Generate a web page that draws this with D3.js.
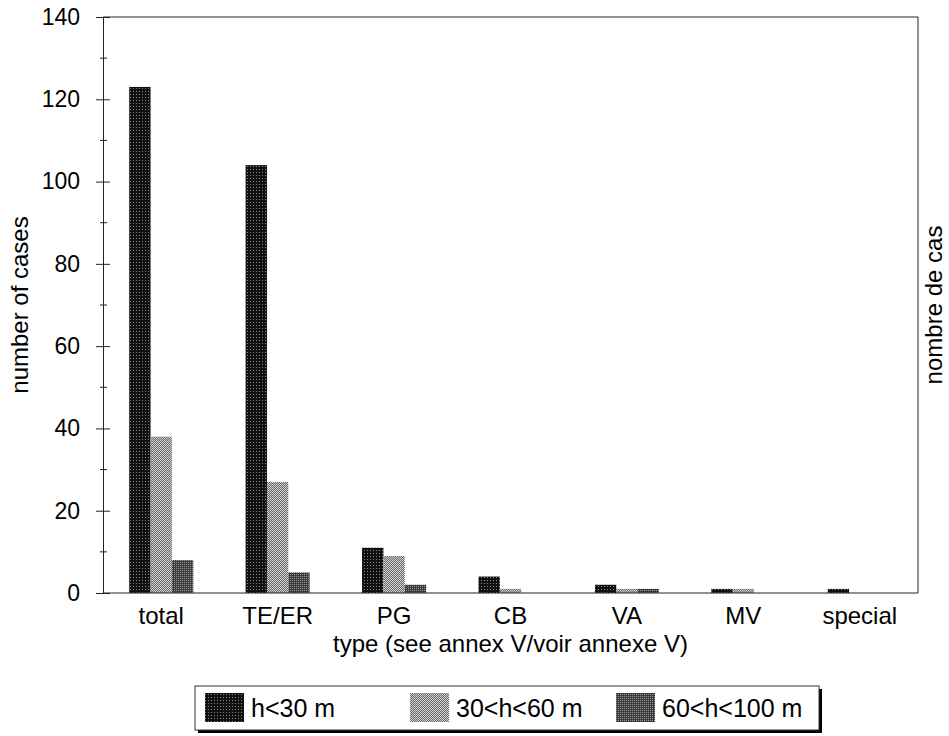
<!DOCTYPE html>
<html><head><meta charset="utf-8">
<script src="https://cdn.jsdelivr.net/npm/d3@7"></script>
<style>body{margin:0;background:#fff}text{font-family:"Liberation Sans",Arial,sans-serif;fill:#000}</style>
</head><body>
<svg id="c" width="949" height="736"></svg>
<script>
const categories = ["total","TE/ER","PG","CB","VA","MV","special"];
const seriesNames = ["h<30 m","30<h<60 m","60<h<100 m"];
const h30  = [123,104,11,4,2,1,1];
const h60  = [38,27,9,1,1,1,0];
const h100 = [8,5,2,0,1,0,0];
const yTicks = [0,20,40,60,80,100,120,140];
const yMinor = [10,30,50,70,90,110,130];
const seriesValues = [h30,h60,h100];

const svg = d3.select("#c");
const L=103, R=918, T=17, B=593;

const defs = svg.append("defs");
function pat(id, size, bg, dots){
  const p = defs.append("pattern").attr("id",id).attr("width",size).attr("height",size).attr("patternUnits","userSpaceOnUse");
  p.append("rect").attr("width",size).attr("height",size).attr("fill",bg);
  dots.forEach(d=>p.append("rect").attr("x",d[0]).attr("y",d[1]).attr("width",1).attr("height",1).attr("fill",d[2]));
}
pat("p0",3,"#111",[[1,1,"#888"]]);
pat("p1",2,"#6a6a6a",[[0,0,"#d8d8d8"],[1,1,"#c8c8c8"]]);
pat("p2",2,"#3a3a3a",[[0,0,"#9a9a9a"]]);
const fills = ["url(#p0)","url(#p1)","url(#p2)"];

const x0 = d3.scaleBand().domain(categories).range([L,R]).paddingInner(0.45).paddingOuter(0.225);
const x1 = d3.scaleBand().domain(seriesNames).range([0,x0.bandwidth()]);
const y = d3.scaleLinear().domain([0,140]).range([B,T]);

// bars
seriesNames.forEach((s,si)=>{
  svg.append("g").selectAll("rect").data(categories).join("rect")
    .attr("x",c=>x0(c)+x1(s))
    .attr("y",(c,i)=>y(seriesValues[si][i]))
    .attr("width",x1.bandwidth())
    .attr("height",(c,i)=>B-y(seriesValues[si][i]))
    .attr("fill",fills[si]);
});

// frame
svg.append("line").attr("x1",L).attr("x2",R).attr("y1",T).attr("y2",T).attr("stroke","#222");
svg.append("line").attr("x1",R).attr("x2",R).attr("y1",T).attr("y2",B).attr("stroke","#222");
svg.append("line").attr("x1",L).attr("x2",R).attr("y1",B).attr("y2",B).attr("stroke","#222");

// y axis
const yAxis = d3.axisLeft(y).tickValues(yTicks).tickSize(7).tickPadding(16);
const ga = svg.append("g").attr("transform",`translate(${L},0)`).call(yAxis);
ga.select(".domain").attr("stroke","#222");
ga.selectAll(".tick line").attr("x1",-7).attr("x2",7).attr("stroke","#222");
ga.selectAll(".tick text").style("font-size","23px").style("font-family","Liberation Sans, Arial, sans-serif");
svg.append("g").selectAll("line").data(yMinor).join("line")
  .attr("x1",L-3).attr("x2",L+4).attr("y1",d=>y(d)).attr("y2",d=>y(d)).attr("stroke","#222");

// x labels
const xAxis = d3.axisBottom(x0).tickSize(0).tickPadding(14);
const gx = svg.append("g").attr("transform",`translate(0,${B})`).call(xAxis);
gx.select(".domain").remove();
gx.selectAll(".tick text").style("font-size","24px").style("font-family","Liberation Sans, Arial, sans-serif");

// titles
svg.append("text").attr("x",(L+R)/2).attr("y",652).attr("text-anchor","middle").style("font-size","24px")
  .text("type (see annex V/voir annexe V)");
svg.append("text").attr("transform",`translate(28,${(T+B)/2}) rotate(-90)`).attr("text-anchor","middle").style("font-size","24px")
  .text("number of cases");
svg.append("text").attr("transform",`translate(942,${(T+B)/2}) rotate(-90)`).attr("text-anchor","middle").style("font-size","24px")
  .text("nombre de cas");

// legend
const lg = svg.append("g");
lg.append("rect").attr("x",198).attr("y",689).attr("width",624).attr("height",44).attr("fill","#000");
lg.append("rect").attr("x",195).attr("y",686).attr("width",624).attr("height",44).attr("fill","#fff").attr("stroke","#333");
const lx = [205,410,616];
seriesNames.forEach((s,i)=>{
  lg.append("rect").attr("x",lx[i]).attr("y",693).attr("width",39).attr("height",29).attr("fill",fills[i]);
  lg.append("text").attr("x",lx[i]+46).attr("y",717).style("font-size","25px").text(s);
});
</script>
</body></html>
